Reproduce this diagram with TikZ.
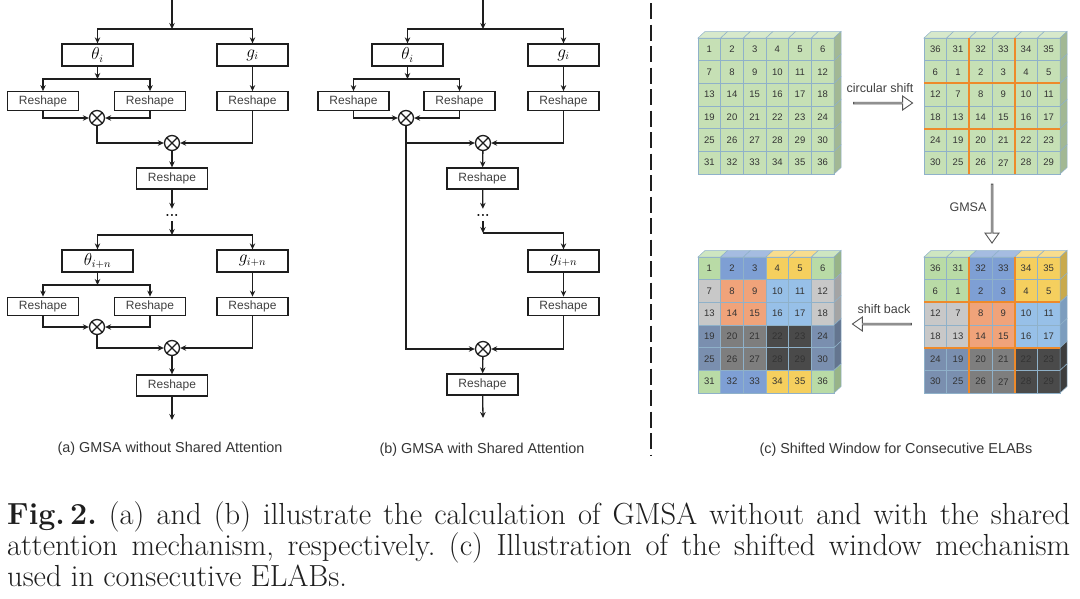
\documentclass[tikz,border=0pt]{standalone}
\usepackage{fontspec}
\setsansfont{Liberation Sans}
\usepackage{tikz}
\usetikzlibrary{arrows.meta,positioning,calc,shapes.arrows}
\definecolor{ink}{HTML}{1E1E1E}
\definecolor{cellln}{HTML}{8FB1C9}
\definecolor{numc}{HTML}{333333}
\definecolor{shline}{HTML}{EE8A2A}
\definecolor{plain}{HTML}{C6E0B5}
\definecolor{blk00}{HTML}{B9DBA6}
\definecolor{blk01}{HTML}{7E9FD4}
\definecolor{blk02}{HTML}{F5CF5E}
\definecolor{blk10}{HTML}{C8C8C8}
\definecolor{blk11}{HTML}{F0A37A}
\definecolor{blk12}{HTML}{97C0E8}
\definecolor{blk20}{HTML}{7A8FAF}
\definecolor{blk21}{HTML}{7E7E7E}
\definecolor{blk22}{HTML}{4A4A4A}
\newcommand{\figfont}[1]{\fontsize{#1}{#1}\selectfont}
\newcommand{\cellsz}{22.67}
% #1 name, #2 x0, #3 y0, #4 shifted (0/1), #5 coloured (0/1)
\newcommand{\gridblock}[5]{%
  \foreach \ri in {0,...,5}{
    \foreach \ci in {0,...,5}{
      \pgfmathtruncatemacro{\nval}{#4==1 ? 6*mod(\ri+5,6)+mod(\ci+5,6)+1 : 6*\ri+\ci+1}
      \pgfmathtruncatemacro{\bri}{#4==1 ? int(\ri/2) : int(mod(\ri+1,6)/2)}
      \pgfmathtruncatemacro{\bci}{#4==1 ? int(\ci/2) : int(mod(\ci+1,6)/2)}
      \ifnum#5=1 \edef\cf{blk\bri\bci}\else\def\cf{plain}\fi
      \filldraw[fill=\cf, draw=cellln, line width=0.5pt]
        (#2+\ci*\cellsz, #3+\ri*\cellsz) rectangle ++(\cellsz,\cellsz);
      \node[cnum] (#1-\ri-\ci) at (#2+\ci*\cellsz+\cellsz/2, #3+\ri*\cellsz+\cellsz/2) {\nval};
      \ifnum\ri=0
        \filldraw[fill=\cf!70!white, draw=cellln, line width=0.5pt]
          (#2+\ci*\cellsz, #3) -- ++(7,-6.5) -- ++(\cellsz,0) -- ++(-7,6.5) -- cycle;
      \fi
      \ifnum\ci=5
        \filldraw[fill=\cf!82!black, draw=cellln, line width=0.5pt]
          (#2+6*\cellsz, #3+\ri*\cellsz) -- ++(7,-6.5) -- ++(0,\cellsz) -- ++(-7,6.5) -- cycle;
      \fi
    }
  }
  \ifnum#4=1
    \draw[shline, line width=2pt]
      (#2+2*\cellsz, #3) -- ++(0,6*\cellsz)
      (#2+4*\cellsz, #3) -- ++(0,6*\cellsz)
      (#2, #3+2*\cellsz) -- ++(6*\cellsz,0)
      (#2, #3+4*\cellsz) -- ++(6*\cellsz,0);
  \fi
}
\tikzset{
  >={Stealth[length=6pt,width=5.5pt]},
  opb/.style   ={rectangle, draw=ink, line width=1.3pt, minimum width=71pt,
                 minimum height=22pt, inner sep=0pt, font=\figfont{16}},
  rsh/.style   ={rectangle, draw=ink, line width=1.3pt, minimum width=71pt,
                 minimum height=18.5pt, inner sep=0pt, text=ink!85,
                 font=\sffamily\figfont{12}},
  mul/.style   ={circle, draw=ink, line width=1.3pt, minimum size=15pt, inner sep=0pt,
                 path picture={\draw[ink, line width=1.2pt]
                   (path picture bounding box.north west) -- (path picture bounding box.south east)
                   (path picture bounding box.south west) -- (path picture bounding box.north east);}},
  con/.style   ={->, draw=ink, line width=1.3pt},
  dts/.style   ={inner sep=5pt, font=\bfseries\figfont{14}},
  sub/.style   ={font=\sffamily\figfont{14.4}, text=ink!90, inner sep=0pt},
  cnum/.style  ={font=\sffamily\figfont{9.5}, text=numc, inner sep=0pt},
  hollow/.style={single arrow, draw=ink!75, line width=0.9pt, fill=white,
                 minimum width=14pt, single arrow head extend=3.5pt,
                 single arrow tip angle=70, minimum height=59pt, inner sep=0pt},
  alab/.style  ={font=\sffamily\figfont{12.5}, text=ink!85, inner sep=0pt},
  capt/.style  ={font=\frenchspacing\figfont{30.5}, text=ink, inner sep=0pt, anchor=base west},
}
\begin{document}
\begin{tikzpicture}[x=1pt,y=-1pt]
\useasboundingbox (0,0) rectangle (1080,598);

% (a) without shared attention
\coordinate (ina)  at (172,0);
\coordinate (spa1) at (172,29);
\node[opb] (tha1) at (97.5,55)   {$\theta_i$};
\node[opb] (ga1)  at (252.5,55)  {$g_i$};
\coordinate (sta1) at (97.5,79);
\node[rsh] (rsa1) at (43,101)    {Reshape};
\node[rsh] (rsa2) at (150,101)   {Reshape};
\node[rsh] (rsa3) at (252.5,101) {Reshape};
\node[mul] (mua1) at (97,118)    {};
\node[mul] (mua2) at (172,143)   {};
\node[rsh, minimum height=21pt] (rsa4) at (172,178.5) {Reshape};
\node[dts] (dta)  at (172,215)   {...};
\coordinate (spa2) at (172,235);
\node[opb] (tha2) at (97.5,261)  {$\theta_{i+n}$};
\node[opb] (ga2)  at (252.5,261) {$g_{i+n}$};
\coordinate (sta2) at (97.5,285);
\node[rsh] (rsa5) at (43,306.5)    {Reshape};
\node[rsh] (rsa6) at (150,306.5)   {Reshape};
\node[rsh] (rsa7) at (252.5,306.5) {Reshape};
\node[mul] (mua3) at (97,327)    {};
\node[mul] (mua4) at (172,348)   {};
\node[rsh, minimum height=21pt] (rsa8) at (172,385.5) {Reshape};
\coordinate (outa) at (172,420);
\node[sub] (capa) at (170,449) {(a) GMSA without Shared Attention};

\draw[con] (ina)  -- (spa1);
\draw[con] (spa1) -| (tha1);
\draw[con] (spa1) -| (ga1);
\draw[con] (tha1) -- (sta1);
\draw[con] (sta1) -| (rsa1);
\draw[con] (sta1) -| (rsa2);
\draw[con] (ga1)  -- (rsa3);
\draw[con] (rsa1) |- (mua1);
\draw[con] (rsa2) |- (mua1);
\draw[con] (mua1) |- (mua2);
\draw[con] (rsa3) |- (mua2);
\draw[con] (mua2) -- (rsa4);
\draw[con] (rsa4) -- (dta);
\draw[con] (dta)  -- (spa2);
\draw[con] (spa2) -| (tha2);
\draw[con] (spa2) -| (ga2);
\draw[con] (tha2) -- (sta2);
\draw[con] (sta2) -| (rsa5);
\draw[con] (sta2) -| (rsa6);
\draw[con] (ga2)  -- (rsa7);
\draw[con] (rsa5) |- (mua3);
\draw[con] (rsa6) |- (mua3);
\draw[con] (mua3) |- (mua4);
\draw[con] (rsa7) |- (mua4);
\draw[con] (mua4) -- (rsa8);
\draw[con] (rsa8) -- (outa);

% (b) with shared attention
\coordinate (inb)  at (483,0);
\coordinate (spb1) at (483,29);
\node[opb] (thb1) at (407.5,55)  {$\theta_i$};
\node[opb] (gb1)  at (563.5,55)  {$g_i$};
\coordinate (stb1) at (407.5,79);
\node[rsh] (rsb1) at (353.5,101) {Reshape};
\node[rsh] (rsb2) at (459.5,101) {Reshape};
\node[rsh] (rsb3) at (563.5,101) {Reshape};
\node[mul] (mub1) at (406,118)   {};
\node[mul] (mub2) at (483,143)   {};
\node[rsh, minimum height=21pt] (rsb4) at (482.5,178.5) {Reshape};
\node[dts] (dtb)  at (483,215)   {...};
\coordinate (spb2) at (483,233);
\node[opb] (gb2)  at (563.5,261) {$g_{i+n}$};
\node[rsh] (rsb5) at (563.5,306.5) {Reshape};
\node[mul] (mub3) at (483,349)   {};
\node[rsh, minimum height=21pt] (rsb6) at (482.5,384.5) {Reshape};
\coordinate (outb) at (483,418);
\node[sub] (capb) at (482,450) {(b) GMSA with Shared Attention};

\draw[con] (inb)  -- (spb1);
\draw[con] (spb1) -| (thb1);
\draw[con] (spb1) -| (gb1);
\draw[con] (thb1) -- (stb1);
\draw[con] (stb1) -| (rsb1);
\draw[con] (stb1) -| (rsb2);
\draw[con] (gb1)  -- (rsb3);
\draw[con] (rsb1) |- (mub1);
\draw[con] (rsb2) |- (mub1);
\draw[con] (mub1) |- (mub2);
\draw[con] (rsb3) |- (mub2);
\draw[con] (mub2) -- (rsb4);
\draw[con] (rsb4) -- (dtb);
\draw[con] (dtb)  -- (spb2);
\draw[con] (spb2) -| (gb2);
\draw[con] (gb2)  -- (rsb5);
\draw[con] (mub1) |- (mub3);
\draw[con] (rsb5) |- (mub3);
\draw[con] (mub3) -- (rsb6);
\draw[con] (rsb6) -- (outb);

% divider
\coordinate (dvt) at (651,3);
\coordinate (dvb) at (651,456);
\draw[ink, line width=2pt, dash pattern=on 16pt off 5.5pt] (dvt) -- (dvb);

% (c) shifted window
\gridblock{gra}{698}{38}{0}{0}
\gridblock{grb}{924}{38}{1}{0}
\gridblock{grc}{698}{257}{0}{1}
\gridblock{grd}{924}{257}{1}{1}
\node[hollow] (shf) at (882.5,103) {};
\node[alab] (shft) at (880,88) {circular shift};
\node[hollow, shape border rotate=270] (gms) at (992,213) {};
\node[alab] (gmst) at (968,207) {GMSA};
\node[hollow, shape border rotate=180] (shb) at (882.5,324) {};
\node[alab] (shbt) at (884,309) {shift back};
\node[sub] (capc) at (896,450) {(c) Shifted Window for Consecutive ELABs};

% figure caption
\node[capt] (cap1) at (7,524) {\makebox[1063pt][s]{\textbf{Fig.\,2.} (a) and (b) illustrate the calculation of GMSA without and with the shared}};
\node[capt] (cap2) at (7,555) {\makebox[1063pt][s]{attention mechanism, respectively. (c) Illustration of the shifted window mechanism}};
\node[capt] (cap3) at (7,586) {used in consecutive ELABs.};
\end{tikzpicture}
\end{document}
